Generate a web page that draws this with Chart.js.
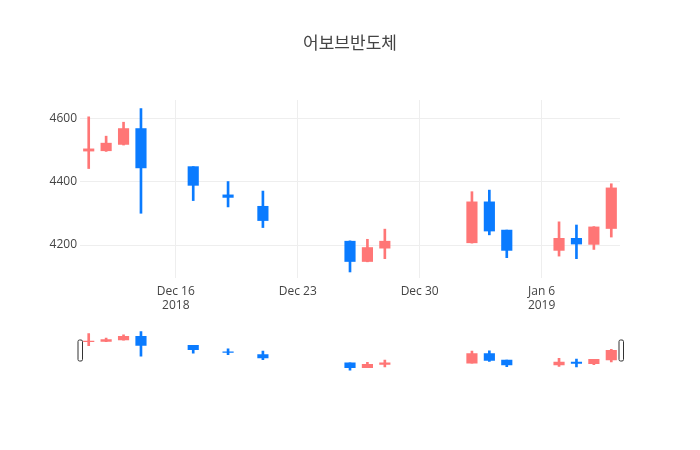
<!DOCTYPE html>
<html>
<head>
<meta charset="utf-8">
<script src="https://cdn.jsdelivr.net/npm/chart.js@4/dist/chart.umd.min.js"></script>
<style>
  html, body { margin: 0; padding: 0; background: #fff; }
  #wrap { position: relative; width: 700px; height: 450px; }
  #wrap canvas { position: absolute; left: 0; top: 0; }
  #title { position: absolute; left: 0; top: 33px; width: 700px; height: 20px; line-height: 20px;
    text-align: center; font-family: 'Open Sans', 'Noto Sans CJK KR', sans-serif; font-size: 17px; color: #444; }
</style>
</head>
<body>
<div id="wrap">
  <canvas id="main" width="700" height="450"></canvas>
  <canvas id="slider" width="700" height="450"></canvas>
  <div id="title"></div>
</div>
<script>
const title = '어보브반도체';
const dates = ['2018-12-11','2018-12-12','2018-12-13','2018-12-14','2018-12-17','2018-12-19','2018-12-21',
  '2018-12-26','2018-12-27','2018-12-28','2019-01-02','2019-01-03','2019-01-04','2019-01-07','2019-01-08',
  '2019-01-09','2019-01-10'];
const openVals  = [4496,4497,4517,4567,4447,4358,4322,4212,4148,4190,4207,4336,4247,4183,4221,4202,4252];
const highVals  = [4604,4543,4587,4630,4447,4400,4370,4213,4218,4250,4368,4373,4247,4273,4263,4258,4393];
const lowVals   = [4441,4495,4515,4300,4340,4320,4255,4115,4147,4157,4206,4232,4160,4165,4157,4186,4225];
const closeVals = [4503,4521,4567,4443,4388,4350,4277,4148,4192,4212,4336,4244,4183,4221,4203,4257,4380];
const xTickDates  = ['2018-12-16','2018-12-23','2018-12-30','2019-01-06'];
const xTickLabels = [['Dec 16','2018'],['Dec 23'],['Dec 30'],['Jan 6','2019']];
const yTicks = [4200, 4400, 4600];
const yMin = 4096, yMax = 4657;

document.getElementById('title').textContent = title;

const UP = '#ff7676', DOWN = '#0a7bff';
const FONT = "'Open Sans', 'Noto Sans CJK KR', sans-serif";
const base = Date.UTC(2018, 11, 16);
function dayOf(s) { const p = s.split('-').map(Number); return (Date.UTC(p[0], p[1]-1, p[2]) - base) / 86400000; }
const xs = dates.map(dayOf);
const xMin = xs[0] - 0.5, xMax = xs[xs.length-1] + 0.5;
const colorAt = i => closeVals[i] >= openVals[i] ? UP : DOWN;

function makeDatasets() {
  return [
    { label: 'body', data: xs.map((x,i)=>({x, y:[openVals[i], closeVals[i]]})),
      backgroundColor: ctx => colorAt(ctx.dataIndex), barThickness: 10.5, grouped: false,
      borderWidth: 0, borderSkipped: false },
    { label: 'wick', data: xs.map((x,i)=>({x, y:[lowVals[i], highVals[i]]})),
      backgroundColor: ctx => colorAt(ctx.dataIndex), barThickness: 2, grouped: false,
      borderWidth: 0, borderSkipped: false }
  ];
}

new Chart(document.getElementById('main'), {
  type: 'bar',
  data: { datasets: makeDatasets() },
  options: {
    responsive: false, animation: false,
    layout: { padding: { left: 0, right: 80, top: 100, bottom: 132 } },
    plugins: { legend: { display: false }, tooltip: { enabled: false }, title: { display: false } },
    scales: {
      x: { type: 'linear', min: xMin, max: xMax, offset: false,
        afterBuildTicks: s => { s.ticks = xTickDates.map(d => ({ value: dayOf(d) })); },
        afterFit: s => { s.height = 40; },
        ticks: { autoSkip: false, maxRotation: 0, color: '#444', padding: 6,
          font: { family: FONT, size: 12 },
          callback: (v) => { const i = xTickDates.map(dayOf).indexOf(v); return i >= 0 ? xTickLabels[i] : ''; } },
        grid: { color: '#eeeeee', drawTicks: false, lineWidth: 1, offset: false },
        border: { display: false } },
      y: { type: 'linear', min: yMin, max: yMax,
        afterBuildTicks: s => { s.ticks = yTicks.map(v => ({ value: v })); },
        afterFit: s => { s.width = 80; },
        ticks: { color: '#444', padding: 3, font: { family: FONT, size: 12 }, callback: v => String(v) },
        grid: { color: '#eeeeee', drawTicks: false, lineWidth: 1 },
        border: { display: false } }
    }
  }
});

const handles = {
  id: 'handles',
  afterDraw(chart) {
    const a = chart.chartArea, c = chart.ctx;
    const mid = (a.top + a.bottom) / 2, h = 21, w = 4.5;
    c.save();
    c.strokeStyle = '#333'; c.fillStyle = '#fff'; c.lineWidth = 1;
    [a.left - 2.5, a.right - 1.5].forEach(x0 => {
      c.beginPath();
      if (c.roundRect) c.roundRect(x0 + 0.5, mid - h/2, w, h, 1.5); else c.rect(x0 + 0.5, mid - h/2, w, h);
      c.fill(); c.stroke();
    });
    c.restore();
  }
};

new Chart(document.getElementById('slider'), {
  type: 'bar',
  data: { datasets: makeDatasets() },
  options: {
    responsive: false, animation: false,
    layout: { padding: { left: 80, right: 80, top: 329.5, bottom: 78.5 } },
    plugins: { legend: { display: false }, tooltip: { enabled: false }, title: { display: false } },
    scales: {
      x: { type: 'linear', min: xMin, max: xMax, offset: false, display: false },
      y: { type: 'linear', min: yMin, max: yMax, display: false }
    }
  },
  plugins: [handles]
});
</script>
</body>
</html>
